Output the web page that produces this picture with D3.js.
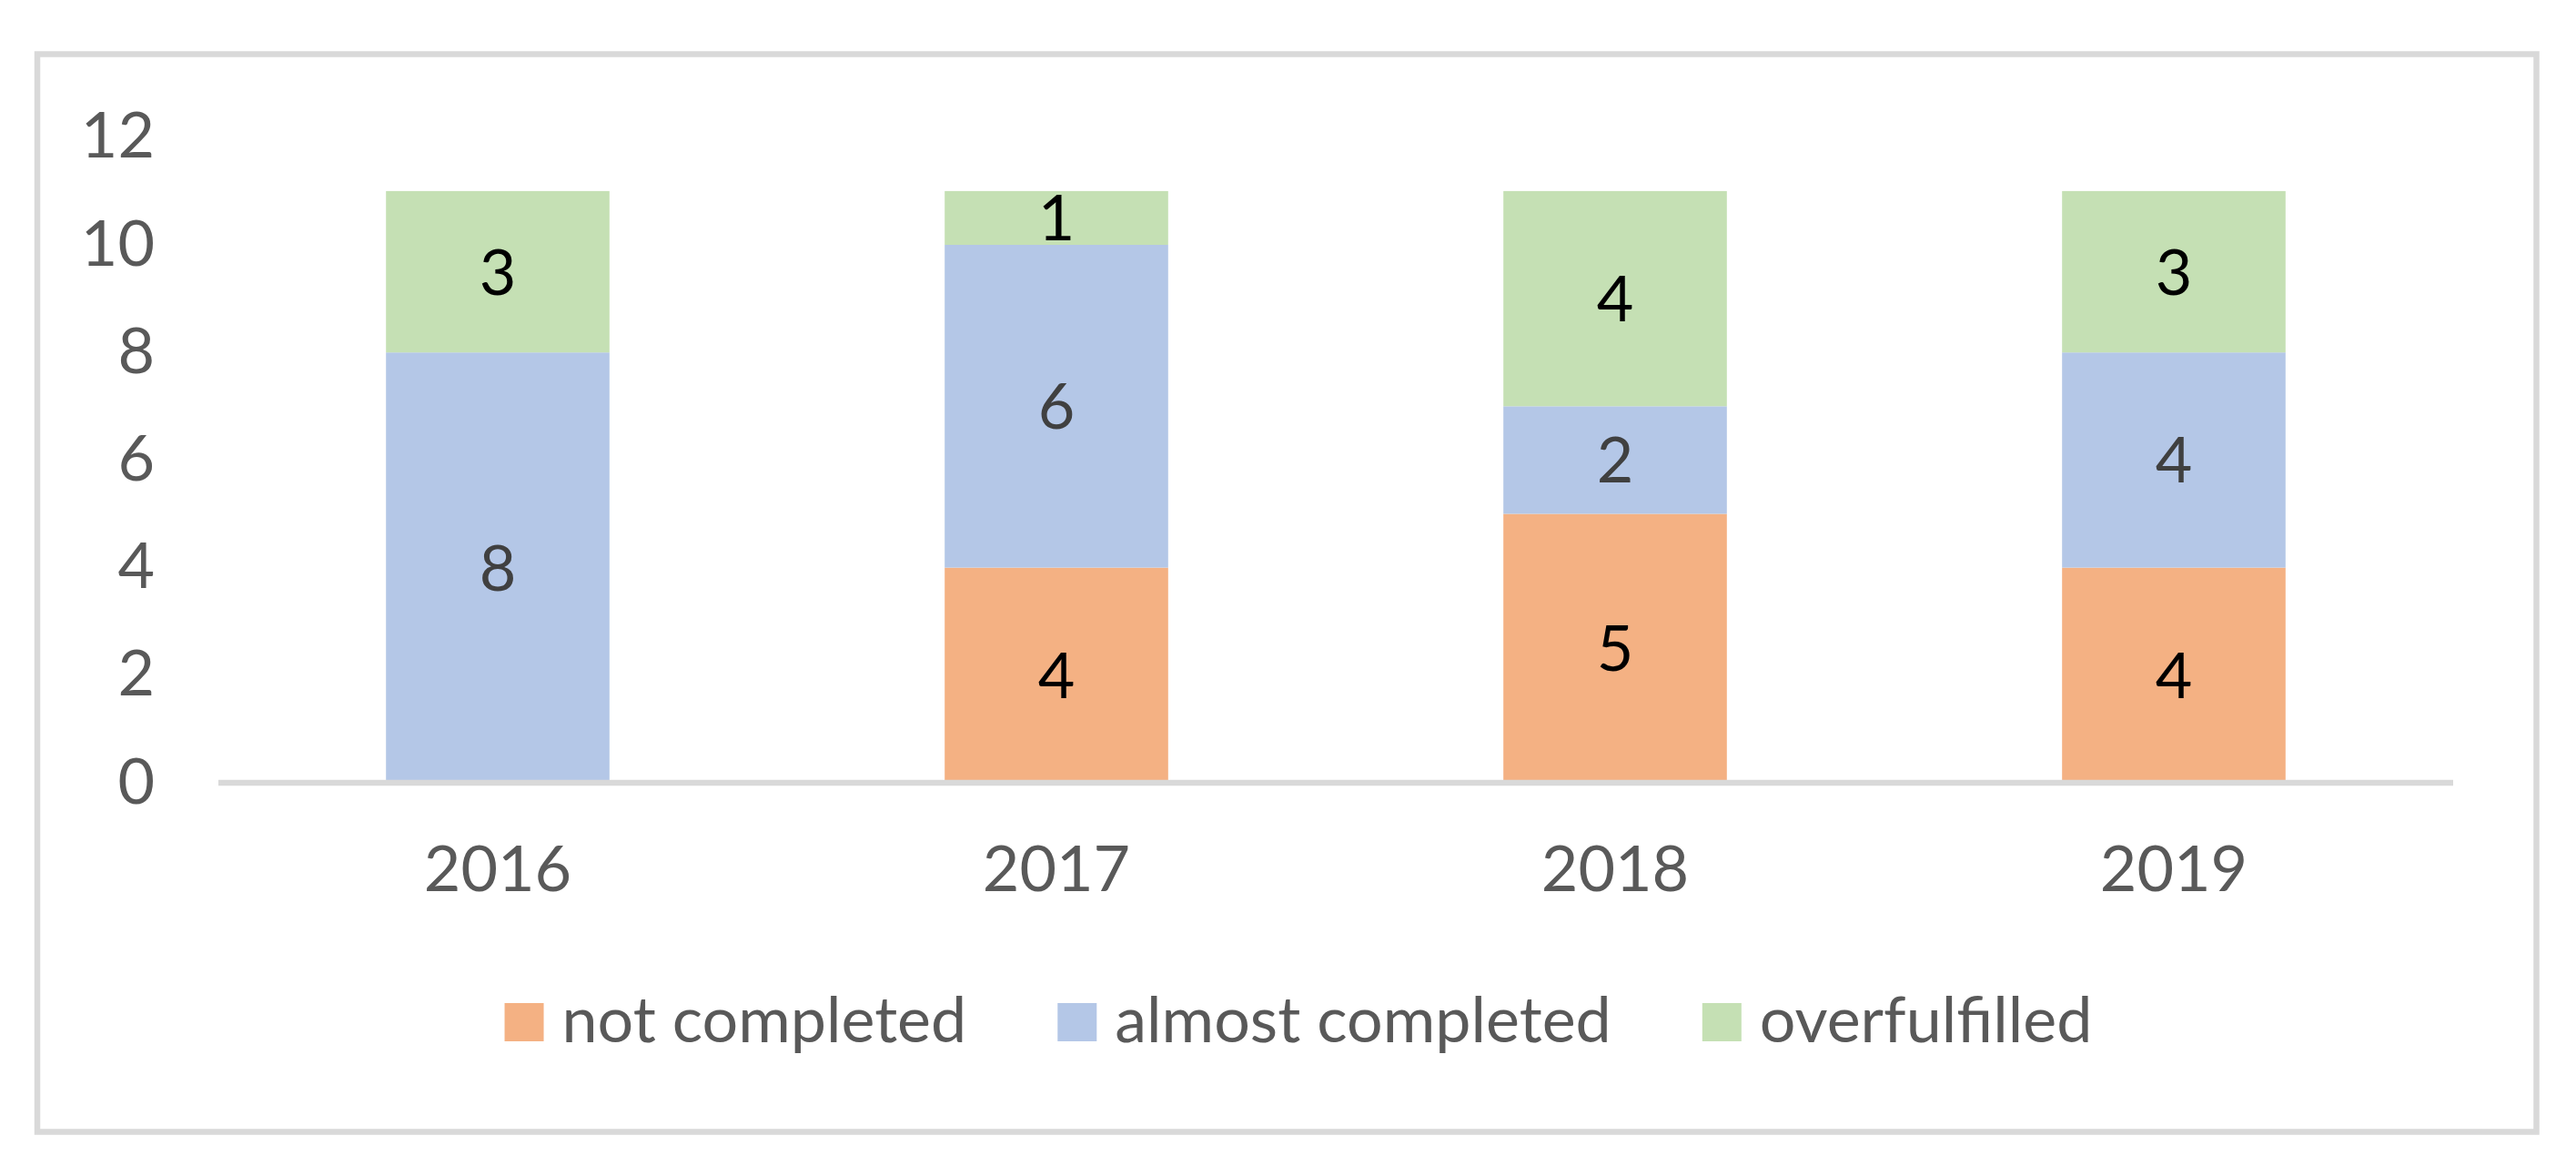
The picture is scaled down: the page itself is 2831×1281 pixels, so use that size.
<!DOCTYPE html>
<html>
<head>
<meta charset="utf-8">
<script src="https://cdn.jsdelivr.net/npm/d3@7"></script>
<style>
  html, body { margin: 0; padding: 0; background: #ffffff; }
  svg { display: block; }
  text { font-family: Lato, "Open Sans", sans-serif; }
</style>
</head>
<body>
<svg id="chart" width="2831" height="1281"></svg>
<script>
// ---- data ----
const years = ["2016", "2017", "2018", "2019"];
const seriesNames = ["not completed", "almost completed", "overfulfilled"];
const notCompleted = [0, 4, 5, 4];
const almostCompleted = [8, 6, 2, 4];
const overfulfilled = [3, 1, 4, 3];
const yTicks = [0, 2, 4, 6, 8, 10, 12];

// ---- styles ----
const colors = ["#F4B183", "#B4C7E7", "#C5E0B4"];
const labelColors = ["#000000", "#404040", "#000000"];
const gridGray = "#D9D9D9";
const textGray = "#595959";
const fontSize = 70;

const svg = d3.select("#chart");

// outer chart border
svg.append("rect")
  .attr("x", 41).attr("y", 59.5)
  .attr("width", 2746.5).attr("height", 1184)
  .attr("fill", "#ffffff")
  .attr("stroke", gridGray).attr("stroke-width", 6.5);

const plot = { left: 240, right: 2696, top: 150.8, bottom: 860 };

const x = d3.scaleBand()
  .domain(years)
  .range([plot.left, plot.right])
  .paddingInner(0.6)
  .paddingOuter(0.3);

const y = d3.scaleLinear()
  .domain([0, 12])
  .range([plot.bottom, plot.top]);

// stack data
const table = years.map((yr, i) => ({
  year: yr,
  "not completed": notCompleted[i],
  "almost completed": almostCompleted[i],
  "overfulfilled": overfulfilled[i]
}));
const stacked = d3.stack().keys(seriesNames)(table);

// bars
const layers = svg.append("g").selectAll("g")
  .data(stacked).join("g")
  .attr("fill", (d, i) => colors[i]);

layers.selectAll("rect")
  .data(d => d.filter(s => s[1] - s[0] > 0))
  .join("rect")
  .attr("x", d => x(d.data.year))
  .attr("width", x.bandwidth())
  .attr("y", d => y(d[1]))
  .attr("height", d => y(d[0]) - y(d[1]));

// bar labels
stacked.forEach((layer, li) => {
  svg.append("g").selectAll("text")
    .data(layer.filter(s => s[1] - s[0] > 0))
    .join("text")
    .attr("x", d => x(d.data.year) + x.bandwidth() / 2)
    .attr("y", d => (y(d[0]) + y(d[1])) / 2 + 25)
    .attr("text-anchor", "middle")
    .attr("font-size", fontSize)
    .attr("fill", labelColors[li])
    .text(d => d[1] - d[0]);
});

// y axis labels (no line, no ticks)
const yAxis = d3.axisLeft(y).tickValues(yTicks).tickSize(0).tickPadding(0);
const yg = svg.append("g").attr("transform", "translate(170,0)").call(yAxis);
yg.select(".domain").remove();
yg.selectAll("text")
  .attr("font-family", "Lato, 'Open Sans', sans-serif")
  .attr("font-size", fontSize)
  .attr("fill", textGray)
  .attr("dy", null)
  .attr("y", 22);

// x axis
const xAxis = d3.axisBottom(x).tickSize(0).tickPadding(0);
const xg = svg.append("g").attr("transform", `translate(0,${plot.bottom})`).call(xAxis);
xg.select(".domain").remove();
xg.selectAll("text")
  .attr("font-family", "Lato, 'Open Sans', sans-serif")
  .attr("font-size", fontSize)
  .attr("fill", textGray)
  .attr("dy", null)
  .attr("y", 119);

// axis baseline
svg.append("line")
  .attr("x1", plot.left).attr("x2", plot.right)
  .attr("y1", y(0)).attr("y2", y(0))
  .attr("stroke", gridGray).attr("stroke-width", 6.5);

// legend
const legend = svg.append("g");
const swatch = 43, gapText = 20, gapItem = 100;
const legendY = 1102;
const items = legend.selectAll("g").data(seriesNames).join("g");
items.append("rect")
  .attr("width", swatch).attr("height", 42)
  .attr("y", legendY)
  .attr("fill", (d, i) => colors[i]);
items.append("text")
  .attr("x", swatch + gapText)
  .attr("y", legendY + 43)
  .attr("font-size", fontSize)
  .attr("fill", textGray)
  .text(d => d);
const widths = [];
items.each(function() {
  const w = swatch + gapText + d3.select(this).select("text").node().getComputedTextLength();
  widths.push(w);
});
const total = d3.sum(widths) + gapItem * (widths.length - 1);
let startX = 1427 - total / 2;
items.attr("transform", (d, i) => {
  const t = `translate(${startX},0)`;
  startX += widths[i] + gapItem;
  return t;
});
</script>
</body>
</html>
